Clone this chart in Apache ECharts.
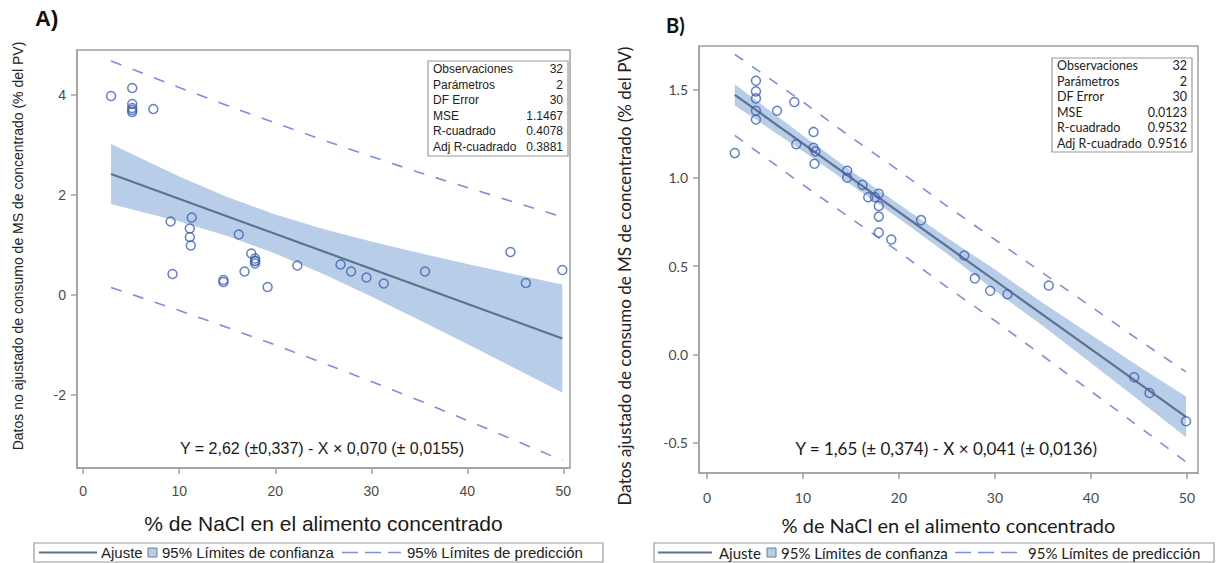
<!DOCTYPE html>
<html>
<head>
<meta charset="utf-8">
<script src="https://cdn.jsdelivr.net/npm/echarts@6/dist/echarts.min.js"></script>
<style>
  html, body { margin: 0; padding: 0; background: #fff; }
  #main { width: 1229px; height: 563px; }
</style>
</head>
<body>
<div id="main"></div>
<script>
// % NaCl of the 32 observations (same in both panels)
const nacl = [2.9, 5.1, 5.1, 5.1, 5.1, 5.1, 7.3, 9.1, 9.3, 11.1, 11.1, 11.3, 11.2, 14.6, 14.6, 16.2,
  16.8, 17.5, 17.9, 17.9, 17.9, 17.9, 19.2, 22.3, 26.8, 27.9, 29.5, 31.3, 35.6, 44.5, 46.1, 49.9]
// A) unadjusted intake
const consumoA = [3.98, 4.14, 3.82, 3.74, 3.66, 3.70, 3.72, 1.47, 0.42, 1.33, 1.16, 1.55, 0.99, 0.30, 0.26, 1.21,
  0.47, 0.83, 0.73, 0.68, 0.63, 0.68, 0.16, 0.59, 0.61, 0.47, 0.35, 0.23, 0.47, 0.86, 0.24, 0.50]
// B) adjusted intake
const consumoB = [1.14, 1.55, 1.49, 1.45, 1.38, 1.33, 1.38, 1.43, 1.19, 1.26, 1.17, 1.15, 1.08, 1.04, 1.00, 0.96,
  0.89, 0.89, 0.91, 0.84, 0.78, 0.69, 0.65, 0.76, 0.56, 0.43, 0.36, 0.34, 0.39, -0.13, -0.22, -0.38]

// fitted line and limits, read at these x
const fitX = [2.9, 49.9]
const bandX = [2.9, 10, 15, 20, 25, 30, 35, 40, 45, 49.9]

const fitA = [2.42, -0.87]
const confUpA = [3.02, 2.37, 1.96, 1.61, 1.32, 1.07, 0.84, 0.62, 0.41, 0.21]
const confLoA = [1.82, 1.47, 1.18, 0.83, 0.42, -0.03, -0.50, -0.98, -1.47, -1.95]
const predUpA = [4.68, 4.15, 3.79, 3.44, 3.10, 2.77, 2.45, 2.15, 1.85, 1.56]
const predLoA = [0.15, -0.31, -0.65, -1.00, -1.36, -1.73, -2.11, -2.51, -2.91, -3.31]

const fitB = [1.47, -0.355]
const confUpB = [1.53, 1.24, 1.04, 0.85, 0.66, 0.48, 0.29, 0.11, -0.07, -0.24]
const confLoB = [1.41, 1.15, 0.96, 0.77, 0.57, 0.36, 0.16, -0.05, -0.26, -0.47]
const predUpB = [1.70, 1.43, 1.23, 1.04, 0.84, 0.65, 0.46, 0.27, 0.08, -0.10]
const predLoB = [1.24, 0.96, 0.77, 0.58, 0.38, 0.19, -0.01, -0.21, -0.41, -0.61]

const xTicks = [0, 10, 20, 30, 40, 50]
const yTicksA = [-2, 0, 2, 4]
const yTicksB = [-0.5, 0, 0.5, 1.0, 1.5]

const statNames = ['Observaciones', 'Parámetros', 'DF Error', 'MSE', 'R-cuadrado', 'Adj R-cuadrado']
const statsA = ['32', '2', '30', '1.1467', '0.4078', '0.3881']
const statsB = ['32', '2', '30', '0.0123', '0.9532', '0.9516']

const eqA = 'Y = 2,62 (±0,337) - X × 0,070 (± 0,0155)'
const eqB = 'Y = 1,65 (± 0,374) - X × 0,041 (± 0,0136)'

const BAND = '#b8cde7'
const FIT = '#5f7190'
const DASH = '#7f8ed8'
const PT = '#3d5fb7'
const FRAME = '#a0a0a0'
const FA = '"Liberation Sans", Arial, sans-serif'
const FB = 'Lato, "Noto Sans", sans-serif'

const pairs = (xs, ys) => xs.map((x, k) => [x, ys[k]])

const panelSeries = (i, ys, fit, cUp, cLo, pUp, pLo, dash) => [
  {
    type: 'custom',
    xAxisIndex: i,
    yAxisIndex: i,
    silent: true,
    z: 1,
    data: bandX.map((x, k) => [x, cUp[k], cLo[k]]),
    encode: { x: 0, y: [1, 2] },
    renderItem: (params, api) => {
      if (params.dataIndex !== 0) return null
      const pts = []
      bandX.forEach((x, k) => pts.push(api.coord([x, cUp[k]])))
      for (let k = bandX.length - 1; k >= 0; k--) pts.push(api.coord([bandX[k], cLo[k]]))
      return { type: 'polygon', shape: { points: pts }, style: { fill: BAND } }
    }
  },
  {
    name: 'Ajuste',
    type: 'line',
    xAxisIndex: i,
    yAxisIndex: i,
    z: 2,
    showSymbol: false,
    lineStyle: { color: FIT, width: 2.2 },
    data: pairs(fitX, fit)
  },
  {
    name: 'pred_up',
    type: 'line',
    xAxisIndex: i,
    yAxisIndex: i,
    z: 3,
    showSymbol: false,
    lineStyle: { color: DASH, width: 1.6, type: dash },
    data: pairs(bandX, pUp)
  },
  {
    name: 'pred_lo',
    type: 'line',
    xAxisIndex: i,
    yAxisIndex: i,
    z: 3,
    showSymbol: false,
    lineStyle: { color: DASH, width: 1.6, type: dash },
    data: pairs(bandX, pLo)
  },
  {
    type: 'scatter',
    xAxisIndex: i,
    yAxisIndex: i,
    z: 4,
    symbol: 'circle',
    symbolSize: 9,
    itemStyle: { color: 'rgba(0,0,0,0)', borderColor: PT, borderWidth: 1.5 },
    data: pairs(nacl, ys)
  }
]

const xAxisOf = (i, min, max, font, size, nameSize, gap, margin) => ({
  type: 'value',
  gridIndex: i,
  min: min,
  max: max,
  name: '% de NaCl en el alimento concentrado',
  nameLocation: 'middle',
  nameGap: gap,
  nameTextStyle: { fontFamily: font, fontSize: nameSize, color: '#1a1a1a' },
  axisLine: { show: true, onZero: false, lineStyle: { color: FRAME, width: 1.5 } },
  axisTick: { show: true, length: 6, customValues: xTicks, lineStyle: { color: FRAME, width: 1.5 } },
  axisLabel: { customValues: xTicks, margin: margin, color: '#4a4a4a', fontFamily: font, fontSize: size },
  splitLine: { show: false }
})

const yAxisOf = (i, min, max, ticks, font, size, fmt) => ({
  type: 'value',
  gridIndex: i,
  min: min,
  max: max,
  axisLine: { show: true, onZero: false, lineStyle: { color: FRAME, width: 1.5 } },
  axisTick: { show: true, length: 6, customValues: ticks, lineStyle: { color: FRAME, width: 1.5 } },
  axisLabel: { customValues: ticks, margin: 11, color: '#4a4a4a', fontFamily: font, fontSize: size, formatter: fmt },
  splitLine: { show: false }
})

const statTable = (left, top, right, bottom, row0, step, vals, font, size) => {
  const els = [{
    type: 'rect',
    shape: { x: left, y: top, width: right - left, height: bottom - top },
    style: { fill: '#fff', stroke: '#9a9a9a', lineWidth: 1.2 },
    z: 10
  }]
  statNames.forEach((n, k) => {
    els.push({ type: 'text', x: left + 5, y: row0 + k * step, z: 11,
      style: { text: n, fontFamily: font, fontSize: size, fill: '#222', verticalAlign: 'middle' } })
    els.push({ type: 'text', x: right - 5, y: row0 + k * step, z: 11,
      style: { text: vals[k], fontFamily: font, fontSize: size, fill: '#222', align: 'right', verticalAlign: 'middle' } })
  })
  return els
}

const legendBox = (x0, x1, yc, pos, font, size) => [
  { type: 'rect', shape: { x: x0, y: yc - 9.5, width: x1 - x0, height: 19 }, style: { fill: 'none', stroke: '#9a9a9a', lineWidth: 1.2 } },
  { type: 'line', shape: { x1: pos[0], y1: yc, x2: pos[1], y2: yc }, style: { stroke: FIT, lineWidth: 2 } },
  { type: 'text', x: pos[2], y: yc, style: { text: 'Ajuste', fontFamily: font, fontSize: size, fill: '#222', verticalAlign: 'middle' } },
  { type: 'rect', shape: { x: pos[3], y: yc - 4.5, width: 9, height: 9 }, style: { fill: BAND, stroke: '#6c7d9a', lineWidth: 1 } },
  { type: 'text', x: pos[4], y: yc, style: { text: '95% Límites de confianza', fontFamily: font, fontSize: size, fill: '#222', verticalAlign: 'middle' } },
  { type: 'line', shape: { x1: pos[5], y1: yc, x2: pos[6], y2: yc }, style: { stroke: DASH, lineWidth: 1.6, lineDash: [16, 7] } },
  { type: 'text', x: pos[7], y: yc, style: { text: '95% Límites de predicción', fontFamily: font, fontSize: size, fill: '#222', verticalAlign: 'middle' } }
]

const chart = echarts.init(document.getElementById('main'), null, { renderer: 'svg' })

const option = {
  animation: false,
  backgroundColor: '#fff',
  grid: [
    { left: 77, top: 50, width: 493, height: 418, show: true, borderColor: FRAME, borderWidth: 1.5, backgroundColor: '#fff' },
    { left: 699, top: 46, width: 499, height: 427, show: true, borderColor: FRAME, borderWidth: 1.5, backgroundColor: '#fff' }
  ],
  xAxis: [
    xAxisOf(0, -0.65, 50.7, FA, 14, 21, 45, 16),
    xAxisOf(1, -0.83, 51.15, FB, 14, 20, 42, 17)
  ],
  yAxis: [
    yAxisOf(0, -3.46, 4.9, yTicksA, FA, 14, v => String(v)),
    yAxisOf(1, -0.673, 1.747, yTicksB, FB, 14, v => v.toFixed(1))
  ],
  series: [
    ...panelSeries(0, consumoA, fitA, confUpA, confLoA, predUpA, predLoA, [11, 12]),
    ...panelSeries(1, consumoB, fitB, confUpB, confLoB, predUpB, predLoB, [10, 11])
  ],
  graphic: [
    { type: 'text', x: 35, y: 18, style: { text: 'A)', fontFamily: FA, fontSize: 22, fontWeight: 'bold', fill: '#111', verticalAlign: 'middle' } },
    { type: 'text', x: 666, y: 25, style: { text: 'B)', fontFamily: FB, fontSize: 20, fontWeight: 'bold', fill: '#111', verticalAlign: 'middle' } },
    { type: 'text', x: 18, y: 246, rotation: Math.PI / 2,
      style: { text: 'Datos no ajustado de consumo de MS de concentrado (% del PV)', fontFamily: FA, fontSize: 14, fill: '#222', align: 'center', verticalAlign: 'middle' } },
    { type: 'text', x: 624, y: 276, rotation: Math.PI / 2,
      style: { text: 'Datos ajustado de consumo de MS de concentrado (% del PV)', fontFamily: FB, fontSize: 17, fill: '#222', align: 'center', verticalAlign: 'middle' } },
    { type: 'text', x: 322, y: 448, z: 10, style: { text: eqA, fontFamily: FA, fontSize: 16, fill: '#1a1a1a', align: 'center', verticalAlign: 'middle' } },
    { type: 'text', x: 1097, y: 448, z: 10, style: { text: eqB, fontFamily: FB, fontSize: 17, fill: '#1a1a1a', align: 'right', verticalAlign: 'middle' } },
    ...statTable(428, 61, 568, 156, 69.3, 15.5, statsA, FA, 12),
    ...statTable(1052, 58, 1192, 152, 65.7, 15.5, statsB, FB, 12.5),
    ...legendBox(34, 603, 552.5, [39, 97, 101, 148, 162, 342, 401, 407], FA, 15),
    ...legendBox(654, 1214, 552.5, [658, 712, 719, 767, 781, 955, 1020, 1028], FB, 15)
  ]
}

chart.setOption(option)
</script>
</body>
</html>
